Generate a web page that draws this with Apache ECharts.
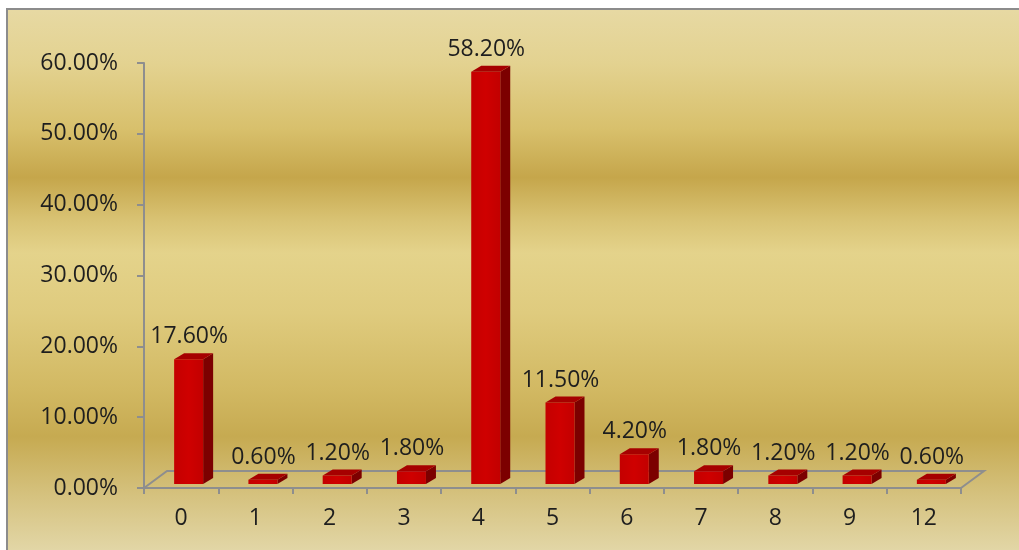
<!DOCTYPE html>
<html>
<head>
<meta charset="utf-8">
<script src="https://cdn.jsdelivr.net/npm/echarts@6/dist/echarts.min.js"></script>
<style>
  html, body { margin: 0; padding: 0; background: #fff; }
  #wrap { position: relative; width: 1019px; height: 550px; overflow: hidden; }
  #frame {
    position: absolute; left: 6px; top: 8px; right: 0; bottom: 0;
    border-top: 2px solid #8c8c8c; border-left: 2px solid #8c8c8c;
    background: linear-gradient(to bottom,
      #e7d9a3 0%, #e3d290 10%, #d8c06c 22%, #c5a64b 31%,
      #d9c374 39%, #e4d38b 45%, #dfcb7e 56%, #d2b963 70%,
      #c6aa51 79%, #d4c07b 89%, #e2d6a6 100%);
  }
  #chart { position: absolute; left: 0; top: 0; width: 1019px; height: 550px; }
</style>
</head>
<body>
<div id="wrap">
  <div id="frame"></div>
  <div id="chart"></div>
</div>
<script>
// 数据
var categories = ['0', '1', '2', '3', '4', '5', '6', '7', '8', '9', '12'];
var percents = [17.6, 0.6, 1.2, 1.8, 58.2, 11.5, 4.2, 1.8, 1.2, 1.2, 0.6];
var yTicks = [0, 10, 20, 30, 40, 50, 60];

var chart = echarts.init(document.getElementById('chart'));

var fontFamily = '"Open Sans", "Liberation Sans", sans-serif';
var textColor = '#1e1e1e';
var axisGray = '#8e8e8e';

// 3D 柱子
function renderBar(params, api) {
    var i = api.value(0);
    var v = api.value(1);
    var base = api.coord([i, 0]);
    var top = api.coord([i, v]);
    var c = base[0];
    var lift = 4;                 // 柱子放在地板中间
    var x0 = c - 7, w = 29;
    var dx = 10, dy = -6;
    var yb = base[1] - lift;
    var yt = top[1] - lift;
    var x1 = x0 + w;
    return {
        type: 'group',
        children: [
            { type: 'polygon', shape: { points: [[x1, yb], [x1 + dx, yb + dy], [x1 + dx, yt + dy], [x1, yt]] },
              style: { fill: '#7c0000' } },
            { type: 'rect', shape: { x: x0, y: yt, width: w, height: yb - yt },
              style: { fill: new echarts.graphic.LinearGradient(0, 0, 1, 0, [
                  { offset: 0, color: '#c40000' }, { offset: 0.5, color: '#cf0000' }, { offset: 1, color: '#c20000' }]) } },
            { type: 'polygon', shape: { points: [[x0, yt], [x0 + dx, yt + dy], [x1 + dx, yt + dy], [x1, yt]] },
              style: { fill: '#a60000' } },
            { type: 'text', style: {
                text: v.toFixed(2) + '%', x: c + 8, y: yt + dy - 5,
                align: 'center', verticalAlign: 'bottom',
                font: '23px ' + fontFamily, fill: textColor } }
        ]
    };
}

// 地板线
function renderFloor(params, api) {
    var cs = params.coordSys;
    var y = api.coord([0, 0])[1];
    var dx = 23, dy = -17;
    var xl = cs.x, xr = cs.x + cs.width;
    return {
        type: 'polyline',
        shape: { points: [[xl, y], [xl + dx, y + dy], [xr + dx, y + dy], [xr, y]] },
        style: { stroke: axisGray, lineWidth: 2, fill: null }
    };
}

var option = {
    animation: false,
    backgroundColor: 'transparent',
    textStyle: { fontFamily: fontFamily },
    grid: { left: 144, right: 58, top: 63, bottom: 62 },
    xAxis: {
        type: 'category',
        data: categories,
        axisLine: { lineStyle: { color: axisGray, width: 2 } },
        axisTick: { show: true, length: 6, lineStyle: { color: axisGray, width: 2 } },
        axisLabel: { color: textColor, fontSize: 23, margin: 19, fontFamily: fontFamily }
    },
    yAxis: {
        type: 'value',
        min: yTicks[0],
        max: yTicks[yTicks.length - 1],
        interval: 10,
        splitLine: { show: false },
        axisLine: { show: true, lineStyle: { color: axisGray, width: 2 } },
        axisTick: { show: true, length: 7, lineStyle: { color: axisGray, width: 2 } },
        axisLabel: {
            color: textColor, fontSize: 23, margin: 26, fontFamily: fontFamily,
            formatter: function (v) { return v.toFixed(2) + '%'; }
        }
    },
    series: [
        {
            type: 'custom',
            renderItem: renderFloor,
            data: [[0, 0]],
            z: 1,
            silent: true
        },
        {
            type: 'custom',
            renderItem: renderBar,
            encode: { x: 0, y: 1 },
            data: percents.map(function (v, i) { return [i, v]; }),
            z: 2
        }
    ]
};

chart.setOption(option);
</script>
</body>
</html>
